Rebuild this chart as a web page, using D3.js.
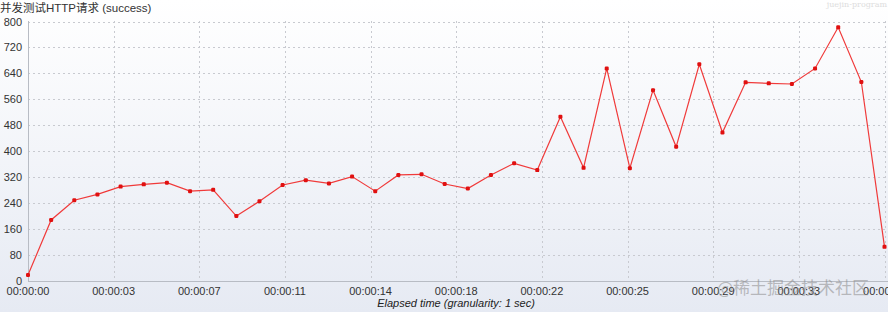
<!DOCTYPE html>
<html>
<head>
<meta charset="utf-8">
<script src="https://cdn.jsdelivr.net/npm/d3@7"></script>
<style>
body{margin:0;padding:0;overflow:hidden}
#container{width:888px;height:312px}
</style>
</head>
<body>
<div id="container"></div>
<script>
var title = "并发测试HTTP请求 (success)"
var xTitle = "Elapsed time (granularity: 1 sec)"
// one value per second
var seconds = d3.range(0,38)
var values = [17,187,248,266,290,297,302,276,280,199,245,295,
              310,300,321,276,326,328,298,284,326,362,341,506,348,
              655,347,588,413,668,457,612,609,607,655,782,613,104]
var yTicks = [0,80,160,240,320,400,480,560,640,720,800]
var xTickSecs = [0,3.7,7.4,11.1,14.8,18.5,22.2,25.9,29.6,33.3,37]

var W = 888, H = 312
var svg = d3.select("#container").append("svg").attr("width",W).attr("height",H)

var defs = svg.append("defs")
var grad = defs.append("linearGradient").attr("id","bg").attr("x1",0).attr("y1",0).attr("x2",0).attr("y2",1)
grad.append("stop").attr("offset","0%").attr("stop-color","#ffffff")
grad.append("stop").attr("offset","100%").attr("stop-color","#e6eaf3")
svg.append("rect").attr("width",W).attr("height",H).attr("fill","url(#bg)")

var xScale = d3.scaleLinear().domain([0,37]).range([28,884.5])
var yScale = d3.scaleLinear().domain([0,800]).range([280.5,21.5])

// grid
svg.selectAll(".hgrid").data(yTicks.slice(1)).enter().append("line")
    .attr("x1",28).attr("x2",888)
    .attr("y1",function(d){return Math.round(yScale(d))+0.5})
    .attr("y2",function(d){return Math.round(yScale(d))+0.5})
    .attr("stroke","#c8cad0").attr("stroke-dasharray","2,3")
svg.selectAll(".vgrid").data(xTickSecs.slice(1)).enter().append("line")
    .attr("y1",21).attr("y2",281)
    .attr("x1",function(d){return Math.round(xScale(d))+0.5})
    .attr("x2",function(d){return Math.round(xScale(d))+0.5})
    .attr("stroke","#c8cad0").attr("stroke-dasharray","2,3")

// axes lines
svg.append("line").attr("x1",28.5).attr("x2",28.5).attr("y1",21).attr("y2",281).attr("stroke","#b8bcc4")
svg.append("line").attr("x1",28).attr("x2",888).attr("y1",281.5).attr("y2",281.5).attr("stroke","#b8bcc4")

// tick labels
svg.selectAll(".ylab").data(yTicks).enter().append("text")
    .attr("x",22).attr("y",function(d){return yScale(d)+4})
    .attr("text-anchor","end").attr("font-family","Liberation Sans, Arial, sans-serif")
    .attr("font-size",11).attr("fill","#333")
    .text(function(d){return d})

function fmt(s){
    var t = Math.floor(s)
    return "00:00:"+(t<10?"0"+t:t)
}
svg.selectAll(".xlab").data(xTickSecs).enter().append("text")
    .attr("x",function(d){return xScale(d)}).attr("y",295)
    .attr("text-anchor","middle").attr("font-family","Liberation Sans, Arial, sans-serif")
    .attr("font-size",11).attr("fill","#333")
    .text(function(d){return fmt(d)})

svg.append("text").attr("x",456).attr("y",307)
    .attr("text-anchor","middle").attr("font-family","Liberation Sans, Arial, sans-serif")
    .attr("font-size",11).attr("font-style","italic").attr("fill","#222")
    .text(xTitle)

svg.append("text").attr("x",0).attr("y",12)
    .attr("font-family","Liberation Sans, Noto Sans CJK SC, sans-serif")
    .attr("font-size",11.5).attr("fill","#333")
    .text(title)

// series
var pts = seconds.map(function(s,i){return {s:s,v:values[i]}})
svg.append("path").datum(pts)
    .attr("fill","none").attr("stroke","#f03a3a").attr("stroke-width",1.2)
    .attr("d",d3.line().x(function(d){return xScale(d.s)}).y(function(d){return yScale(d.v)}))
svg.selectAll(".pt").data(pts).enter().append("rect")
    .attr("x",function(d){return xScale(d.s)-2}).attr("y",function(d){return yScale(d.v)-2})
    .attr("width",4).attr("height",4).attr("rx",1.2)
    .attr("fill","#e01010")

// watermarks
svg.append("text").attr("x",717).attr("y",294)
    .attr("font-family","Noto Sans CJK SC, sans-serif").attr("font-size",17)
    .attr("fill","#8a8a8a").attr("fill-opacity",0.55)
    .text("@稀土掘金技术社区")
svg.append("text").attr("x",887).attr("y",7)
    .attr("text-anchor","end").attr("font-family","DejaVu Serif, serif").attr("font-size",8)
    .attr("fill","#ddd")
    .text("juejin-program")
</script>
</body>
</html>
